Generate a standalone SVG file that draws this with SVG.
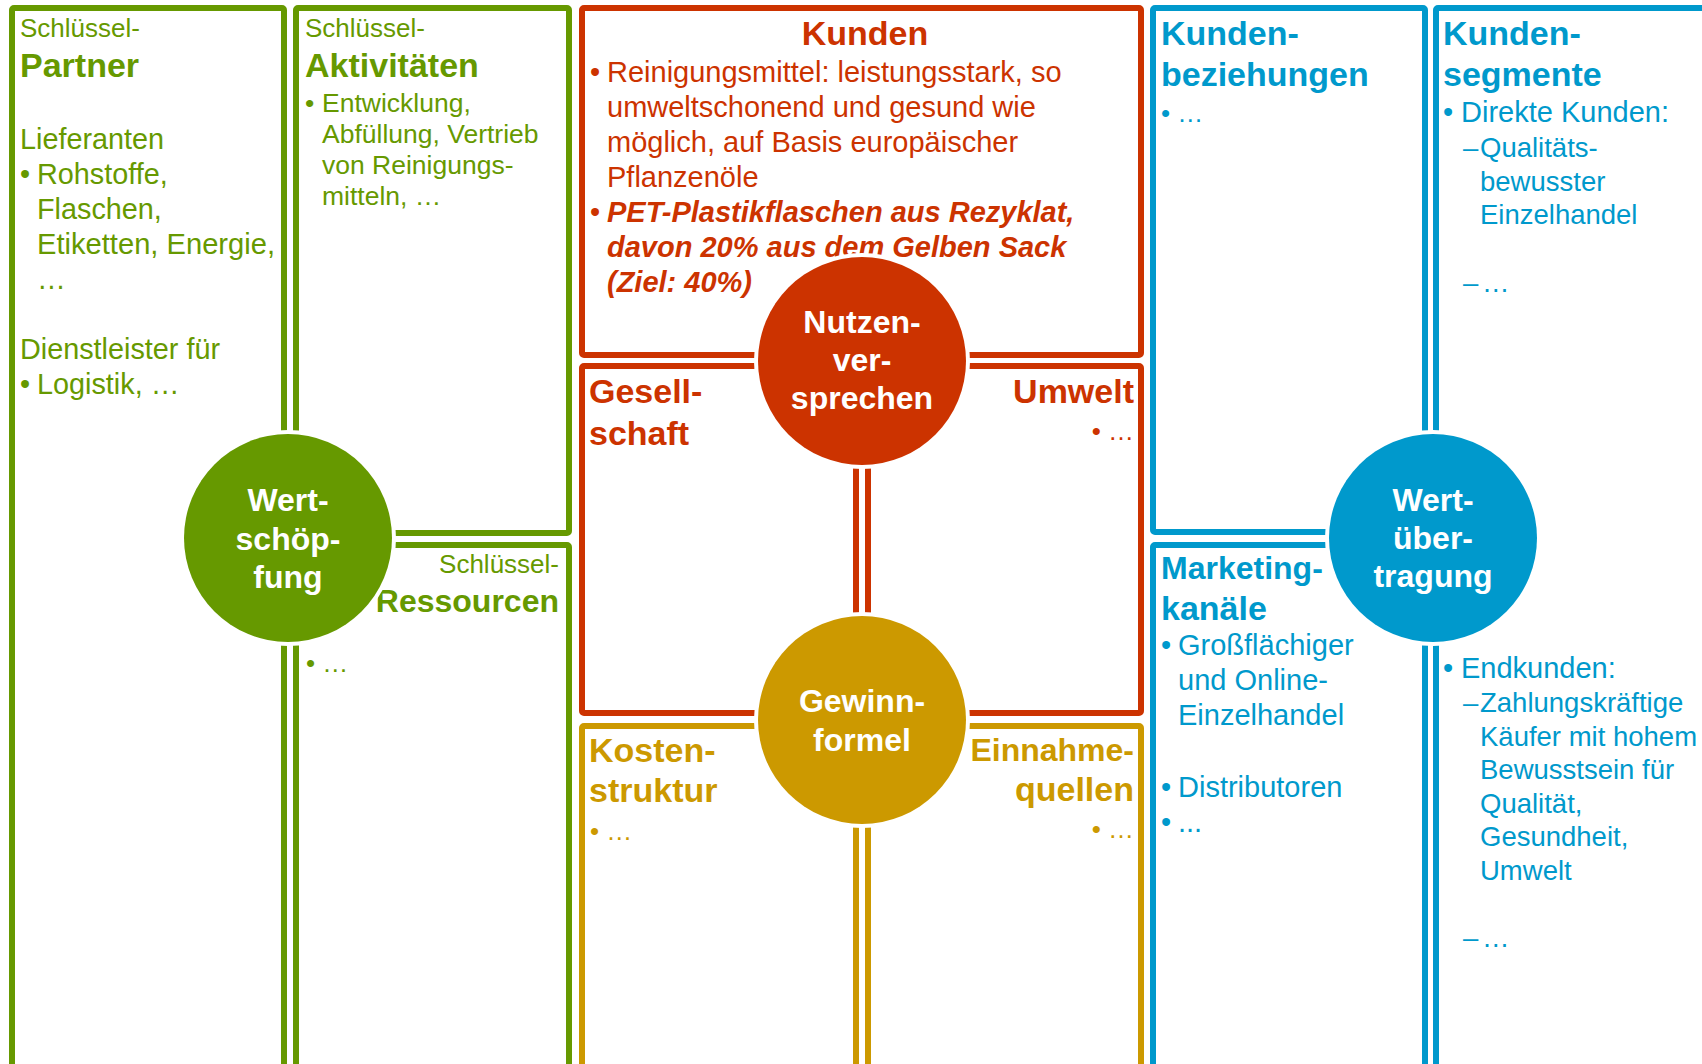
<svg xmlns="http://www.w3.org/2000/svg" width="1702" height="1064" viewBox="0 0 1702 1064">
<style>
text{font-family:"Liberation Sans",Arial,sans-serif}
.box{fill:none;stroke-width:6}
.bg{stroke:#669900}.br{stroke:#CC3300}.bo{stroke:#CC9900}.bb{stroke:#0099CC}
.tg{fill:#669900}.tr{fill:#CC3300}.to{fill:#CC9900}.tb{fill:#0099CC}
.halo{fill:#FFFFFF}
.cg{fill:#669900}.cr{fill:#CC3300}.co{fill:#CC9900}.cb{fill:#0099CC}
.ct{fill:#FFFFFF;font-weight:bold;font-size:32px;text-anchor:middle}
.h{font-weight:bold;font-size:34px}
.s{font-size:26px}
.b{font-size:29px}
.e{text-anchor:end}
.m{text-anchor:middle}
.bi{font-weight:bold;font-style:italic;font-size:29px}
</style>
<rect x="0" y="0" width="1702" height="1064" fill="#FFFFFF"/>

<g id="partner">
<rect class="box bg" x="12" y="8" width="272" height="1059" rx="2"/>
<g class="tg">
<text class="s" x="20" y="37">Schlüssel-</text>
<text class="h" x="20" y="77">Partner</text>
<text x="20" y="149" font-size="28.8">Lieferanten</text>
<text x="20" y="184" font-size="28.8">•</text>
<text x="37" y="184" font-size="28.8">Rohstoffe,</text>
<text x="37" y="219" font-size="28.8">Flaschen,</text>
<text x="37" y="254" font-size="28.8" textLength="238" lengthAdjust="spacingAndGlyphs">Etiketten, Energie,</text>
<text x="37" y="289" font-size="28.8">…</text>
<text x="20" y="359" font-size="28.8">Dienstleister für</text>
<text x="20" y="394" font-size="28.8">•</text>
<text x="37" y="394" font-size="28.8">Logistik, …</text>
</g>
</g>

<g id="aktivitaeten">
<rect class="box bg" x="296" y="8" width="273" height="525" rx="2"/>
<g class="tg">
<text class="s" x="305" y="37">Schlüssel-</text>
<text class="h" x="305" y="77">Aktivitäten</text>
<text x="305" y="112" font-size="26.5">•</text>
<text x="322" y="112" font-size="26.5">Entwicklung,</text>
<text x="322" y="143" font-size="26.5">Abfüllung, Vertrieb</text>
<text x="322" y="174" font-size="26.5">von Reinigungs-</text>
<text x="322" y="205" font-size="26.5">mitteln, …</text>
</g>
</g>

<g id="ressourcen">
<rect class="box bg" x="296" y="545" width="273" height="522" rx="2"/>
<g class="tg">
<text class="s e" x="559" y="573">Schlüssel-</text>
<text class="e" x="559" y="612" font-weight="bold" font-size="32">Ressourcen</text>
<text class="s" x="306" y="672">• …</text>
</g>
</g>

<g id="kunden-nutzen">
<rect class="box br" x="582" y="8" width="559" height="347" rx="2"/>
<g class="tr">
<text class="h m" x="865" y="45">Kunden</text>
<text class="b" x="590" y="82">•</text>
<text class="b" x="607" y="82">Reinigungsmittel: leistungsstark, so</text>
<text class="b" x="607" y="117">umweltschonend und gesund wie</text>
<text class="b" x="607" y="152">möglich, auf Basis europäischer</text>
<text class="b" x="607" y="187">Pflanzenöle</text>
<text class="b" x="590" y="222">•</text>
<text class="bi" x="607" y="222">PET-Plastikflaschen aus Rezyklat,</text>
<text class="bi" x="607" y="257">davon 20% aus dem Gelben Sack</text>
<text class="bi" x="607" y="292">(Ziel: 40%)</text>
</g>
</g>

<g id="gesellschaft">
<rect class="box br" x="582" y="366" width="274" height="347" rx="2"/>
<g class="tr">
<text class="h" x="589" y="403">Gesell-</text>
<text class="h" x="589" y="445">schaft</text>
</g>
</g>

<g id="umwelt">
<rect class="box br" x="868" y="366" width="273" height="347" rx="2"/>
<g class="tr">
<text class="h e" x="1134" y="403">Umwelt</text>
<text class="s e" x="1134" y="440">• …</text>
</g>
</g>

<g id="kostenstruktur">
<rect class="box bo" x="582" y="726" width="274" height="341" rx="2"/>
<g class="to">
<text class="h" x="589" y="762">Kosten-</text>
<text class="h" x="589" y="802">struktur</text>
<text class="s" x="590" y="840">• …</text>
</g>
</g>

<g id="einnahmequellen">
<rect class="box bo" x="868" y="726" width="273" height="341" rx="2"/>
<g class="to">
<text class="e" x="1134" y="761" font-weight="bold" font-size="32">Einnahme-</text>
<text class="h e" x="1134" y="801">quellen</text>
<text class="s e" x="1134" y="838">• …</text>
</g>
</g>

<g id="kundenbeziehungen">
<rect class="box bb" x="1153" y="8" width="272" height="524" rx="2"/>
<g class="tb">
<text class="h" x="1161" y="45">Kunden-</text>
<text class="h" x="1161" y="86">beziehungen</text>
<text class="s" x="1161" y="122">• …</text>
</g>
</g>

<g id="marketingkanaele">
<rect class="box bb" x="1153" y="545" width="272" height="522" rx="2"/>
<g class="tb">
<text x="1161" y="579" font-weight="bold" font-size="32">Marketing-</text>
<text class="h" x="1161" y="620">kanäle</text>
<text class="b" x="1161" y="655">•</text>
<text class="b" x="1178" y="655">Großflächiger</text>
<text class="b" x="1178" y="690">und Online-</text>
<text class="b" x="1178" y="725">Einzelhandel</text>
<text class="b" x="1161" y="797">•</text>
<text class="b" x="1178" y="797">Distributoren</text>
<text class="b" x="1161" y="832">•</text>
<text class="b" x="1178" y="832">...</text>
</g>
</g>

<g id="kundensegmente">
<rect class="box bb" x="1436" y="8" width="274" height="1059" rx="2"/>
<g class="tb">
<text class="h" x="1443" y="45">Kunden-</text>
<text class="h" x="1443" y="86">segmente</text>
<text class="b" x="1443" y="122">•</text>
<text class="b" x="1461" y="122">Direkte Kunden:</text>
<text x="1463" y="157" font-size="27.5">–</text>
<text x="1480" y="157" font-size="27.5">Qualitäts-</text>
<text x="1480" y="191" font-size="27.5">bewusster</text>
<text x="1480" y="224" font-size="27.5">Einzelhandel</text>
<text x="1463" y="292" font-size="27.5">–</text>
<text x="1482" y="292" font-size="27.5">…</text>
<text class="b" x="1443" y="678">•</text>
<text class="b" x="1461" y="678">Endkunden:</text>
<text x="1463" y="712" font-size="27.5">–</text>
<text x="1480" y="712" font-size="27.5">Zahlungskräftige</text>
<text x="1480" y="745.5" font-size="27.5">Käufer mit hohem</text>
<text x="1480" y="779" font-size="27.5">Bewusstsein für</text>
<text x="1480" y="812.5" font-size="27.5">Qualität,</text>
<text x="1480" y="846" font-size="27.5">Gesundheit,</text>
<text x="1480" y="879.5" font-size="27.5">Umwelt</text>
<text x="1463" y="947" font-size="27.5">–</text>
<text x="1482" y="947" font-size="27.5">…</text>
</g>
</g>

<g id="wertschoepfung">
<circle class="halo" cx="288" cy="538" r="108"/>
<circle class="cg" cx="288" cy="538" r="104"/>
<text class="ct" x="288" y="511">Wert-</text>
<text class="ct" x="288" y="550">schöp-</text>
<text class="ct" x="288" y="588">fung</text>
</g>

<g id="nutzenversprechen">
<circle class="halo" cx="862" cy="361" r="108"/>
<circle class="cr" cx="862" cy="361" r="104"/>
<text class="ct" x="862" y="333">Nutzen-</text>
<text class="ct" x="862" y="371">ver-</text>
<text class="ct" x="862" y="409">sprechen</text>
</g>

<g id="gewinnformel">
<circle class="halo" cx="862" cy="720" r="108"/>
<circle class="co" cx="862" cy="720" r="104"/>
<text class="ct" x="862" y="712">Gewinn-</text>
<text class="ct" x="862" y="751">formel</text>
</g>

<g id="wertuebertragung">
<circle class="halo" cx="1433" cy="538" r="108"/>
<circle class="cb" cx="1433" cy="538" r="104"/>
<text class="ct" x="1433" y="511">Wert-</text>
<text class="ct" x="1433" y="549">über-</text>
<text class="ct" x="1433" y="587">tragung</text>
</g>
</svg>
